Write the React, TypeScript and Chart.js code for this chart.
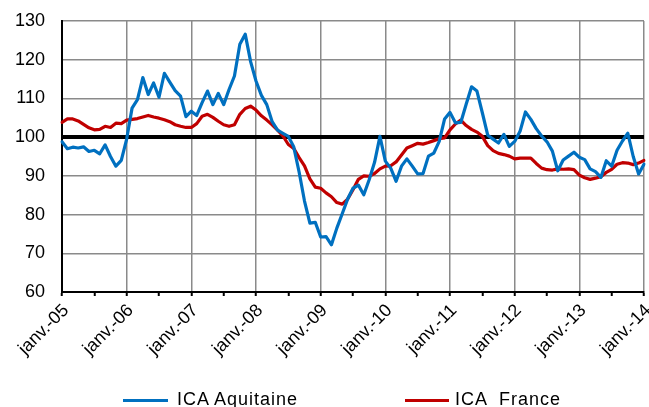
import React, { useEffect, useRef } from 'react';
import { Chart, registerables } from 'chart.js';

Chart.register(...registerables);

const MONTHS = ['janv.', 'févr.', 'mars', 'avr.', 'mai', 'juin', 'juil.', 'août', 'sept.', 'oct.', 'nov.', 'déc.'];
const YEARS = ['05', '06', '07', '08', '09', '10', '11', '12', '13'];
const LAST_LABEL = 'janv.-14';

const categories: string[] = [
  ...YEARS.flatMap((y) => MONTHS.map((m) => `${m}-${y}`)),
  LAST_LABEL,
];

const aquitaine = [
  98.8, 97, 97.4, 97.2, 97.5, 96.3, 96.6, 95.7, 98, 95, 92.5, 94,
  99.5, 107.5, 109.7, 115.4, 111, 114, 110.3, 116.5, 114.2, 112, 110.6, 105.3,
  106.7, 105.6, 108.9, 111.9, 108.4, 111.3, 108.4, 112.3, 115.8, 124, 126.6, 119.5,
  114.5, 110.8, 108.4, 104, 101.8, 101, 100.2, 97.5, 91, 83.5, 77.8, 78,
  74.2, 74.3, 72.2, 76.5, 80.2, 84, 86.8, 87.6, 85.1, 89, 93.5, 100.2,
  93.8, 92, 88.6, 92.5, 94.4, 92.5, 90.5, 90.6, 95.1, 95.9, 98.9, 104.7,
  106.4, 103.7, 103.8, 108.5, 113, 111.9, 106.3, 100.5, 99.5, 98.5, 100.7, 97.6,
  98.9, 101.5, 106.5, 104.6, 102.2, 100.3, 98.8, 96.4, 91.3, 94.1, 95.1, 96.1,
  94.8, 94.2, 91.8, 91.1, 89.6, 93.9, 92.5, 96.6, 99, 101, 95, 90.5,
  93,
];

const france = [
  103.8, 104.7, 104.7, 104.2, 103.3, 102.4, 101.9, 102, 102.8, 102.5, 103.6, 103.5,
  104.4, 104.6, 104.8, 105.2, 105.6, 105.2, 104.9, 104.5, 104, 103.2, 102.8, 102.5,
  102.5, 103.5, 105.4, 105.9, 105.1, 104.1, 103.2, 102.8, 103.2, 105.9, 107.4, 108,
  107, 105.5, 104.4, 103.2, 101.8, 100.3, 98.1, 97.1, 94.7, 92.6, 89.2, 87.1,
  86.8, 85.6, 84.6, 83.1, 82.7, 84, 86.4, 89.1, 90, 89.9, 90.6, 91.8,
  92.5, 92.6, 93.6, 95.4, 97.2, 97.8, 98.4, 98.2, 98.6, 99.1, 99.6, 99.8,
  101.9, 103.4, 104.4, 103, 102, 101.3, 100.2, 97.8, 96.5, 95.8, 95.5, 95.1,
  94.4, 94.6, 94.6, 94.6, 93.2, 92, 91.6, 91.5, 91.8, 91.7, 91.8, 91.6,
  90.2, 89.5, 89.1, 89.4, 89.8, 90.9, 91.7, 93, 93.4, 93.3, 92.9, 93.3,
  94,
];

const SERIES_NAMES = ['ICA Aquitaine', 'ICA  France'];
const SERIES_COLORS = ['#0070C0', '#C00000'];
const Y_MIN = 60;
const Y_MAX = 130;
const Y_STEP = 10;
const REFERENCE_LEVEL = 100;

const FONT_FAMILY = "'Liberation Sans', Arial, Helvetica, sans-serif";
const GRID = '#8a8a8a';

export default function App() {
  const ref = useRef<HTMLCanvasElement>(null);

  useEffect(() => {
    document.documentElement.style.overflow = 'hidden';
    document.body.style.margin = '0';
    document.body.style.overflow = 'hidden';
    const canvas = ref.current;
    if (!canvas) return;
    const font = { family: FONT_FAMILY, size: 18 };
    const chart = new Chart(canvas, {
      type: 'line',
      data: {
        labels: categories,
        datasets: [
          {
            label: SERIES_NAMES[0],
            data: aquitaine,
            borderColor: SERIES_COLORS[0],
            backgroundColor: SERIES_COLORS[0],
            borderWidth: 3.2,
            pointRadius: 0,
            tension: 0,
            fill: false,
          },
          {
            label: SERIES_NAMES[1],
            data: france,
            borderColor: SERIES_COLORS[1],
            backgroundColor: SERIES_COLORS[1],
            borderWidth: 3.2,
            pointRadius: 0,
            tension: 0,
            fill: false,
          },
        ],
      },
      options: {
        responsive: false,
        animation: false,
        events: [],
        layout: { padding: { top: 21, right: 5, bottom: 0, left: 0 } },
        plugins: {
          legend: { display: false },
          tooltip: { enabled: false },
          title: { display: false },
        },
        elements: {
          line: { borderJoinStyle: 'round', borderCapStyle: 'round' },
        },
        scales: {
          x: {
            type: 'category',
            offset: false,
            grid: {
              offset: false,
              color: (c: any) => (c.index % 12 === 0 && c.index !== 0 ? GRID : 'rgba(0,0,0,0)'),
              lineWidth: 1.5,
              drawTicks: true,
              tickLength: 4,
              tickWidth: 2,
              tickColor: (c: any) => (c.index % 6 === 0 ? '#000' : 'rgba(0,0,0,0)'),
            },
            border: { color: '#000', width: 2 },
            ticks: {
              autoSkip: false,
              maxRotation: 45,
              minRotation: 45,
              font,
              color: '#000',
              padding: 4,
              labelOffset: 4,
              callback: (_v: any, i: number) => (i % 12 === 0 ? categories[i] : ''),
            },
            afterFit: (s: any) => {
              s.height = 115;
              s.paddingLeft = 0;
              s.paddingRight = 0;
            },
          },
          y: {
            min: Y_MIN,
            max: Y_MAX,
            ticks: { stepSize: Y_STEP, font, color: '#000', padding: 17 },
            grid: {
              drawTicks: false,
              color: (c: any) => {
                const v = c.tick ? c.tick.value : null;
                if (v === Y_MIN) return 'rgba(0,0,0,0)';
                if (v === REFERENCE_LEVEL) return '#000';
                return GRID;
              },
              lineWidth: (c: any) => (c.tick && c.tick.value === REFERENCE_LEVEL ? 4 : 1.5),
            },
            border: { color: '#000', width: 2 },
            afterFit: (s: any) => {
              s.width = 62;
              s.paddingTop = 0;
              s.paddingBottom = 0;
            },
          },
        },
      },
    });
    return () => chart.destroy();
  }, []);

  const textStyle: React.CSSProperties = {
    position: 'absolute',
    top: 390,
    fontFamily: FONT_FAMILY,
    fontSize: 18,
    lineHeight: '18px',
    letterSpacing: '1px',
    color: '#000',
    whiteSpace: 'pre',
  };

  return (
    <div style={{ position: 'fixed', left: 0, top: 0, width: 649, height: 407, overflow: 'hidden', background: '#fff' }}>
      <canvas ref={ref} width={649} height={407} style={{ display: 'block', width: 649, height: 407 }} />
      <div style={{ position: 'absolute', left: 123, top: 399, width: 45, height: 3, background: SERIES_COLORS[0] }} />
      <div style={{ ...textStyle, left: 177 }}>{SERIES_NAMES[0]}</div>
      <div style={{ position: 'absolute', left: 405, top: 399, width: 44, height: 3, background: SERIES_COLORS[1] }} />
      <div style={{ ...textStyle, left: 455 }}>{SERIES_NAMES[1]}</div>
    </div>
  );
}
